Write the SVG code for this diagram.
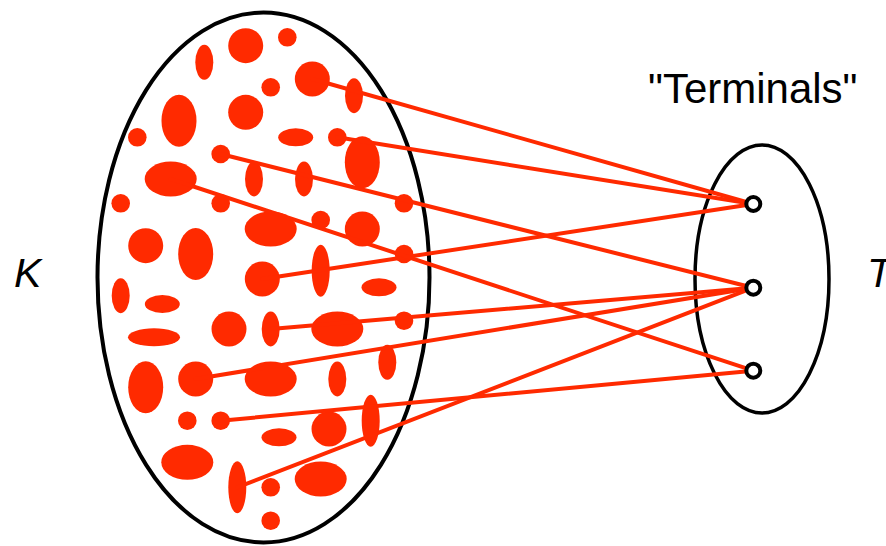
<svg xmlns="http://www.w3.org/2000/svg" width="886" height="546" viewBox="0 0 886 546">
<style>
.b{fill:#ff2a00}
.e{fill:#fff;stroke:#000;stroke-width:4}
.c{stroke:#ff2a00;stroke-width:4;fill:none;stroke-linecap:round}
.t{fill:#fff;stroke:#000;stroke-width:4}
.lbl{font-family:"Liberation Sans",Arial,sans-serif;font-size:41px;fill:#000}
.it{font-style:italic}
</style>
<rect width="886" height="546" fill="#fff"/>
<g id="K">
<ellipse class="e" cx="263.5" cy="277.5" rx="166" ry="265"/>
<g id="blobs">
<ellipse class="b" cx="204.3" cy="62.3" rx="9" ry="17.5"/>
<circle class="b" cx="245.7" cy="45.7" r="17.5"/>
<circle class="b" cx="287.3" cy="37.3" r="9.3"/>
<circle class="b" cx="312.3" cy="79" r="17.5"/>
<ellipse class="b" cx="354" cy="95.7" rx="9" ry="17.5"/>
<circle class="b" cx="270.7" cy="87.3" r="9.3"/>
<ellipse class="b" cx="179" cy="120.7" rx="17.5" ry="26"/>
<circle class="b" cx="245.7" cy="112.3" r="17.5"/>
<circle class="b" cx="137.3" cy="137.3" r="9.3"/>
<ellipse class="b" cx="295.7" cy="137.3" rx="17.5" ry="9"/>
<circle class="b" cx="337.3" cy="137.3" r="9.3"/>
<circle class="b" cx="220.7" cy="154" r="9.3"/>
<ellipse class="b" cx="362.3" cy="162.3" rx="17.5" ry="26"/>
<ellipse class="b" cx="254" cy="179" rx="9" ry="17.5"/>
<ellipse class="b" cx="304" cy="179" rx="9" ry="17.5"/>
<ellipse class="b" cx="170.7" cy="179" rx="26" ry="17.5"/>
<circle class="b" cx="120.7" cy="203.3" r="9.3"/>
<circle class="b" cx="220.7" cy="203.3" r="9.3"/>
<ellipse class="b" cx="270.7" cy="229" rx="26" ry="17.5"/>
<circle class="b" cx="320.7" cy="220" r="9.3"/>
<circle class="b" cx="362.3" cy="229" r="17.5"/>
<circle class="b" cx="404" cy="203.3" r="9.3"/>
<circle class="b" cx="404" cy="254" r="9.3"/>
<circle class="b" cx="145.7" cy="245.7" r="17.5"/>
<ellipse class="b" cx="195.7" cy="254" rx="17.5" ry="26"/>
<circle class="b" cx="262.3" cy="279" r="17.5"/>
<ellipse class="b" cx="320.7" cy="270.7" rx="9" ry="26"/>
<ellipse class="b" cx="379" cy="287.3" rx="17.5" ry="9"/>
<ellipse class="b" cx="120.7" cy="295.7" rx="9" ry="17.5"/>
<ellipse class="b" cx="162.3" cy="304" rx="17.5" ry="9"/>
<ellipse class="b" cx="154" cy="337.3" rx="26" ry="9"/>
<circle class="b" cx="229" cy="329" r="17.5"/>
<ellipse class="b" cx="270.7" cy="329" rx="9" ry="17.5"/>
<ellipse class="b" cx="337.3" cy="329" rx="26" ry="17.5"/>
<circle class="b" cx="404" cy="320.7" r="9.3"/>
<ellipse class="b" cx="387.3" cy="362.3" rx="9" ry="17.5"/>
<ellipse class="b" cx="145.7" cy="387.3" rx="17.5" ry="26"/>
<circle class="b" cx="195.7" cy="379" r="17.5"/>
<ellipse class="b" cx="270.7" cy="379" rx="26" ry="17.5"/>
<ellipse class="b" cx="337.3" cy="379" rx="9" ry="17.5"/>
<circle class="b" cx="187.3" cy="420.7" r="9.3"/>
<circle class="b" cx="220.7" cy="420.7" r="9.3"/>
<ellipse class="b" cx="279" cy="437.3" rx="17.5" ry="9"/>
<circle class="b" cx="329" cy="429" r="17.5"/>
<ellipse class="b" cx="370.7" cy="420.7" rx="9" ry="26"/>
<ellipse class="b" cx="187.3" cy="462.3" rx="26" ry="17.5"/>
<ellipse class="b" cx="237.3" cy="487.3" rx="9" ry="26"/>
<circle class="b" cx="270.7" cy="487.3" r="9.3"/>
<ellipse class="b" cx="320.7" cy="479" rx="26" ry="17.5"/>
<circle class="b" cx="270.7" cy="520.7" r="9.3"/>
</g>
</g>
<g id="T">
<ellipse fill="none" stroke="#000" stroke-width="3.5" cx="762" cy="279" rx="67" ry="134"/>
</g>
<g id="connectors">
<line class="c" x1="312.3" y1="79" x2="753.3" y2="204"/>
<line class="c" x1="337.3" y1="137.3" x2="753.3" y2="204"/>
<line class="c" x1="262.3" y1="279" x2="753.3" y2="204"/>
<line class="c" x1="220.7" y1="154" x2="753.3" y2="287.7"/>
<line class="c" x1="270.7" y1="329" x2="753.3" y2="287.7"/>
<line class="c" x1="195.7" y1="379" x2="753.3" y2="287.7"/>
<line class="c" x1="237.3" y1="487.3" x2="753.3" y2="287.7"/>
<line class="c" x1="170.7" y1="179" x2="753.3" y2="370.7"/>
<line class="c" x1="220.7" y1="420.7" x2="753.3" y2="370.7"/>
</g>
<g id="terminal1"><circle class="t" cx="753.3" cy="204" r="7"/></g>
<g id="terminal2"><circle class="t" cx="753.3" cy="287.7" r="7"/></g>
<g id="terminal3"><circle class="t" cx="753.3" cy="370.7" r="7"/></g>
<g id="labels">
<text class="lbl" x="648" y="103" style="font-size:42px">"Terminals"</text>
<text class="lbl it" x="14" y="287">K</text>
<text class="lbl it" x="867" y="287">T</text>
</g>
</svg>
